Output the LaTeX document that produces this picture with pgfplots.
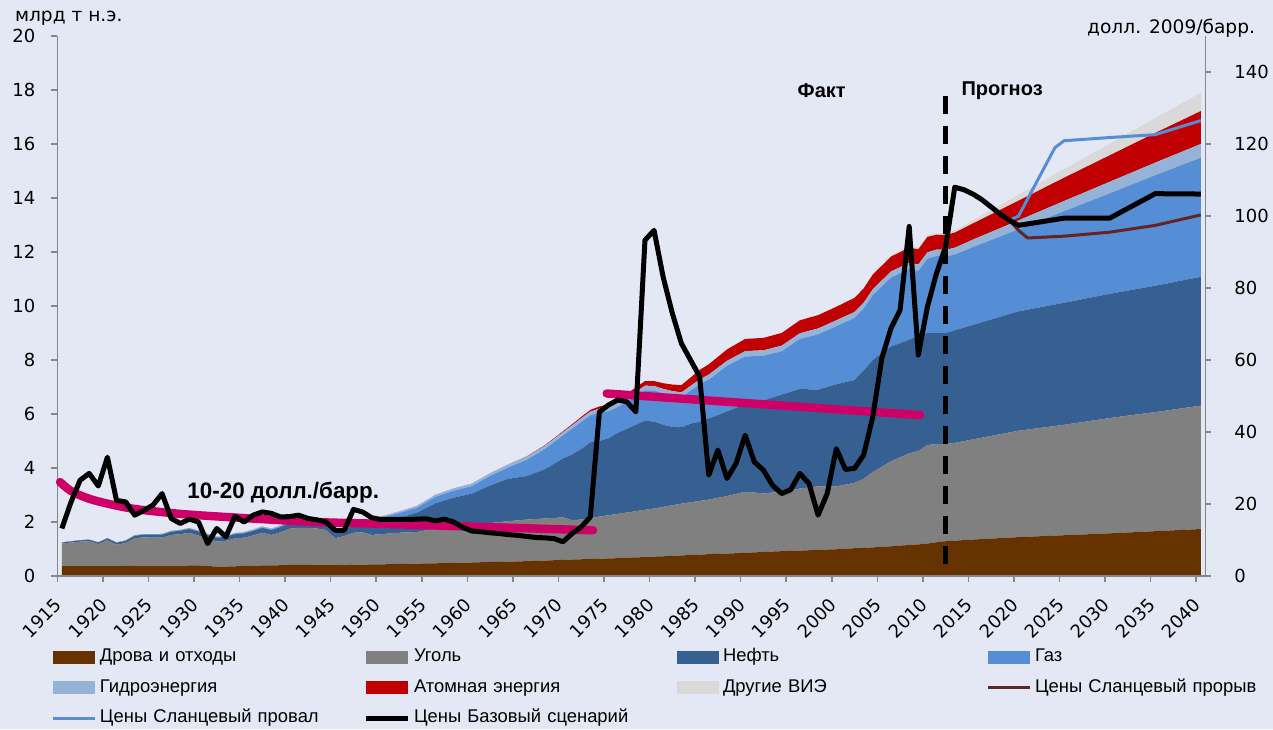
\documentclass[border=0pt]{standalone}
\usepackage{fontspec}
\setmainfont{Liberation Sans}
\newfontfamily\dejavu{DejaVu Sans}
\usepackage{pgfplots}
\pgfplotsset{compat=1.18}
\usepackage{pgfplotstable}

\definecolor{bgc}{RGB}{228,232,244}
\definecolor{woodc}{RGB}{102,51,0}
\definecolor{coalc}{RGB}{128,128,128}
\definecolor{oilc}{RGB}{55,96,146}
\definecolor{gasc}{RGB}{85,142,213}
\definecolor{hydc}{RGB}{149,179,215}
\definecolor{nucc}{RGB}{192,0,0}
\definecolor{othc}{RGB}{217,217,217}
\definecolor{brownl}{RGB}{99,37,35}
\definecolor{bluel}{RGB}{85,142,213}
\definecolor{pinkl}{RGB}{204,0,102}
\definecolor{axc}{RGB}{134,134,134}

\pgfplotsset{
  areaimg/.style={legend image code/.code={\fill[##1] (0pt,-3.25pt) rectangle (21pt,3.25pt);}},
  lineimg/.style={legend image code/.code={\draw[##1] (0pt,0pt) -- (21pt,0pt);}},
}

\pgfplotstableread{
year wood coal oil gas hyd nuc oth
1915 0.37 0.83 0.04 0 0.005 0 0
1916 0.37 0.87 0.04 0 0.005 0 0
1917 0.37 0.90 0.05 0 0.006 0 0
1918 0.37 0.92 0.05 0 0.007 0 0
1919 0.37 0.81 0.06 0 0.008 0 0
1920 0.37 0.95 0.07 0.005 0.01 0 0
1921 0.37 0.79 0.07 0.005 0.01 0 0
1922 0.37 0.85 0.08 0.006 0.011 0 0
1923 0.38 1.02 0.09 0.007 0.012 0 0
1924 0.38 1.05 0.10 0.008 0.013 0 0
1925 0.38 1.04 0.11 0.01 0.015 0 0
1926 0.38 1.04 0.11 0.01 0.016 0 0
1927 0.38 1.14 0.12 0.012 0.017 0 0
1928 0.38 1.17 0.13 0.013 0.018 0 0
1929 0.39 1.21 0.14 0.015 0.019 0 0
1930 0.39 1.11 0.15 0.015 0.02 0 0
1931 0.37 1.01 0.14 0.015 0.02 0 0
1932 0.35 0.93 0.14 0.015 0.02 0 0
1933 0.35 0.95 0.15 0.016 0.021 0 0
1934 0.36 1.04 0.15 0.018 0.023 0 0
1935 0.37 1.05 0.16 0.02 0.025 0 0
1936 0.38 1.12 0.17 0.022 0.026 0 0
1937 0.39 1.21 0.18 0.025 0.027 0 0
1938 0.39 1.13 0.18 0.025 0.028 0 0
1939 0.40 1.22 0.19 0.03 0.029 0 0
1940 0.41 1.34 0.20 0.035 0.03 0 0
1941 0.41 1.37 0.20 0.04 0.032 0 0
1942 0.41 1.37 0.20 0.045 0.034 0 0
1943 0.42 1.34 0.21 0.05 0.036 0 0
1944 0.42 1.28 0.21 0.05 0.038 0 0
1945 0.42 0.98 0.17 0.04 0.04 0 0
1946 0.40 1.08 0.22 0.06 0.042 0 0
1947 0.42 1.18 0.28 0.08 0.044 0 0
1948 0.42 1.20 0.33 0.10 0.046 0 0
1949 0.43 1.09 0.39 0.12 0.048 0 0
1950 0.43 1.12 0.45 0.15 0.05 0 0
1952 0.45 1.15 0.55 0.18 0.055 0 0
1954 0.46 1.17 0.72 0.18 0.065 0 0
1956 0.47 1.29 0.93 0.24 0.075 0 0
1958 0.49 1.35 1.06 0.26 0.08 0 0
1960 0.50 1.40 1.15 0.28 0.09 0 0
1962 0.52 1.44 1.39 0.35 0.10 0 0
1964 0.53 1.50 1.57 0.42 0.11 0 0
1966 0.55 1.54 1.61 0.60 0.115 0.01 0
1968 0.57 1.56 1.82 0.75 0.12 0.02 0
1970 0.60 1.57 2.18 0.85 0.13 0.03 0
1971 0.61 1.46 2.43 0.95 0.13 0.04 0
1972 0.62 1.47 2.61 1.00 0.14 0.05 0
1973 0.63 1.52 2.80 1.00 0.14 0.06 0
1974 0.64 1.56 2.80 1.05 0.15 0.08 0
1975 0.65 1.60 2.85 1.00 0.15 0.10 0
1976 0.66 1.64 3.00 0.95 0.16 0.12 0
1977 0.68 1.67 3.10 1.00 0.16 0.14 0
1978 0.69 1.71 3.20 1.05 0.17 0.16 0
1979 0.70 1.75 3.30 1.13 0.17 0.17 0
1980 0.72 1.78 3.22 1.15 0.17 0.18 0
1981 0.73 1.83 3.04 1.16 0.17 0.21 0
1982 0.75 1.87 2.90 1.15 0.18 0.24 0
1983 0.76 1.92 2.82 1.12 0.18 0.27 0
1984 0.78 1.95 2.89 1.24 0.18 0.31 0
1985 0.79 1.99 2.94 1.38 0.18 0.35 0
1986 0.81 2.02 2.99 1.45 0.19 0.38 0
1988 0.83 2.13 3.14 1.68 0.19 0.42 0
1990 0.86 2.26 3.23 1.78 0.20 0.45 0
1992 0.89 2.17 3.44 1.66 0.20 0.46 0
1994 0.92 2.20 3.60 1.60 0.21 0.47 0
1996 0.94 2.30 3.69 1.85 0.21 0.48 0
1998 0.97 2.35 3.58 2.05 0.22 0.49 0.01
2000 0.99 2.33 3.78 2.15 0.22 0.50 0.02
2002 1.03 2.42 3.81 2.30 0.22 0.52 0.02
2003 1.04 2.56 4.00 2.30 0.22 0.53 0.03
2004 1.06 2.79 4.15 2.40 0.22 0.54 0.03
2006 1.10 3.15 4.25 2.55 0.23 0.55 0.04
2008 1.15 3.39 4.21 2.62 0.23 0.56 0.05
2009 1.17 3.46 4.27 2.40 0.24 0.56 0.05
2010 1.20 3.65 4.15 2.75 0.24 0.57 0.06
2011 1.25 3.64 4.11 2.85 0.24 0.55 0.06
2012 1.29 3.60 4.11 2.83 0.25 0.55 0.07
2013 1.31 3.62 4.17 2.80 0.26 0.56 0.08
2015 1.35 3.71 4.24 2.88 0.28 0.60 0.12
2020 1.44 3.94 4.42 3.04 0.33 0.73 0.22
2025 1.51 4.09 4.52 3.39 0.38 0.86 0.32
2030 1.58 4.27 4.60 3.72 0.43 0.98 0.43
2035 1.66 4.41 4.68 4.09 0.47 1.10 0.55
2040 1.74 4.57 4.77 4.41 0.51 1.22 0.68
}\energy

\pgfplotstableread{
year price
1915 13.2
1916 20.5
1917 26.6
1918 28.5
1919 25
1920 33
1921 21
1922 20.6
1923 16.9
1924 18.2
1925 19.7
1926 22.9
1927 16
1928 14.6
1929 15.8
1930 15
1931 9
1932 13.2
1933 10.9
1934 16.6
1935 15
1936 16.9
1937 17.8
1938 17.4
1939 16.4
1940 16.5
1941 16.9
1942 16
1943 15.6
1944 15
1945 12.7
1946 12.7
1947 18.5
1948 17.8
1949 16.2
1950 15.7
1951 15.7
1952 15.7
1953 15.7
1954 15.8
1955 15.9
1956 15.3
1957 15.8
1958 15
1959 13.5
1960 12.5
1961 12.3
1962 12
1963 11.8
1964 11.5
1965 11.3
1966 11
1967 10.7
1968 10.6
1969 10.4
1970 9.5
1971 11.8
1972 13.6
1973 16.4
1974 45.6
1975 47.5
1976 48.9
1977 48.4
1978 45.6
1979 93.3
1980 96
1981 83
1982 73
1983 64.6
1984 60
1985 55.4
1986 28
1987 35
1988 27.1
1989 31.3
1990 39.1
1991 31.7
1992 29.4
1993 25.2
1994 22.9
1995 24
1996 28.5
1997 25.7
1998 16.9
1999 22.9
2000 35.4
2001 29.6
2002 29.9
2003 33.6
2004 44.2
2005 60.5
2006 68.8
2007 73.9
2008 97.1
2009 61.4
2010 74.8
2011 84.1
2012 91.5
2013 108
2014 107.3
2015 106.1
2016 104.5
2017 102.5
2018 100.5
2019 98.8
2020 97.4
2025 99.4
2030 99.4
2035 106.2
2040 106.1
}\baseprice

\begin{document}
\begin{tikzpicture}
\fill[bgc] (-28.65pt,-76.65pt) rectangle (607.85pt,288pt);
\useasboundingbox (-28.65pt,-76.65pt) rectangle (607.85pt,288pt);

\begin{axis}[
  at={(0,0)}, anchor=south west,
  width=574pt, height=270pt, scale only axis,
  xmin=1914.5, xmax=2040.5, ymin=0, ymax=20,
  clip=false, axis on top,
  axis x line*=bottom, axis y line*=left,
  axis line style={axc, line width=0.8pt},
  tick style={axc, line width=0.8pt},
  tick align=outside, major tick length=3pt,
  xtick={1914.5,1919.5,1924.5,1929.5,1934.5,1939.5,1944.5,1949.5,1954.5,1959.5,1964.5,1969.5,1974.5,1979.5,1984.5,1989.5,1994.5,1999.5,2004.5,2009.5,2014.5,2019.5,2024.5,2029.5,2034.5,2039.5},
  xticklabels={1915,1920,1925,1930,1935,1940,1945,1950,1955,1960,1965,1970,1975,1980,1985,1990,1995,2000,2005,2010,2015,2020,2025,2030,2035,2040},
  ytick={0,2,...,20},
  tick label style={font=\dejavu\fontsize{9}{10}\selectfont},
  /pgf/number format/assume math mode=true,
  yticklabel style={xshift=-4.5pt},
  xticklabel style={xshift=3pt, yshift=-7.5pt, rotate=45, anchor=east},
  stack plots=y,
]
\addplot[fill=woodc, draw=none] table[x=year,y=wood]{\energy} \closedcycle;
\addplot[fill=coalc, draw=none] table[x=year,y=coal]{\energy} \closedcycle;
\addplot[fill=oilc, draw=none] table[x=year,y=oil]{\energy} \closedcycle;
\addplot[fill=gasc, draw=none] table[x=year,y=gas]{\energy} \closedcycle;
\addplot[fill=hydc, draw=none] table[x=year,y=hyd]{\energy} \closedcycle;
\addplot[fill=nucc, draw=none] table[x=year,y=nuc]{\energy} \closedcycle;
\addplot[fill=othc, draw=none] table[x=year,y=oth]{\energy} \closedcycle;

\node[anchor=west, font=\dejavu\fontsize{9.3}{10}\selectfont, xshift=-24.65pt, yshift=9pt] at (rel axis cs:0,1) {млрд т н.э.};
\node[anchor=east, font=\dejavu\fontsize{9.3}{10}\selectfont, xshift=28.4pt, yshift=4pt] at (rel axis cs:1,1) {долл. 2009/барр.};
\node[anchor=base, font=\bfseries\fontsize{11.2}{13}\selectfont] at (axis cs:1939.3,2.87) {10-20 долл./барр.};
\node[anchor=base, font=\bfseries\fontsize{11.2}{13}\selectfont] at (axis cs:1992.2,5.28) {45-55 долл./барр};
\node[anchor=base, font=\bfseries\fontsize{10}{12}\selectfont] at (axis cs:1998.4,17.72) {Факт};
\node[anchor=base, font=\bfseries\fontsize{10}{12}\selectfont] at (axis cs:2018.2,17.78) {Прогноз};
\end{axis}

\begin{axis}[
  at={(0,0)}, anchor=south west,
  width=574pt, height=270pt, scale only axis,
  xmin=1914.5, xmax=2040.5, ymin=0, ymax=150,
  clip=false,
  axis x line=none, axis y line*=right,
  axis line style={axc, line width=0.8pt},
  tick style={axc, line width=0.8pt},
  tick align=outside, major tick length=3pt,
  ytick={0,20,...,140},
  tick label style={font=\dejavu\fontsize{9}{10}\selectfont},
  /pgf/number format/assume math mode=true,
  yticklabel style={xshift=8pt},
  legend columns=4,
  legend cell align=left,
  legend style={
    at={(axis description cs:0,0)}, anchor=north west,
    xshift=-3.15pt, yshift=-35.4pt,
    draw=none, fill=none, inner sep=0pt, outer sep=0pt,
    row sep=4.75pt,
    font=\fontsize{9.2}{11}\selectfont,
    /tikz/every odd column/.append style={column sep=1pt},
    /tikz/every even column/.append style={nodes={text width=130.5pt, align=left, text height=6.5pt, text depth=2pt, inner sep=1pt}},
  },
]
\addlegendimage{areaimg, fill=woodc, draw=none}
\addlegendentry{Дрова и отходы}
\addlegendimage{areaimg, fill=coalc, draw=none}
\addlegendentry{Уголь}
\addlegendimage{areaimg, fill=oilc, draw=none}
\addlegendentry{Нефть}
\addlegendimage{areaimg, fill=gasc, draw=none}
\addlegendentry{Газ}
\addlegendimage{areaimg, fill=hydc, draw=none}
\addlegendentry{Гидроэнергия}
\addlegendimage{areaimg, fill=nucc, draw=none}
\addlegendentry{Атомная энергия}
\addlegendimage{areaimg, fill=othc, draw=none}
\addlegendentry{Другие ВИЭ}

\addplot[forget plot, pinkl, line width=4.2pt, line cap=round, smooth] coordinates {
(1914.8,26.1) (1915.9,23.8) (1917.4,22.0) (1919.2,20.6) (1922.8,18.7) (1928.3,17.2) (1935.6,16.0) (1942.9,15.0) (1949.9,14.5) (1961.6,13.6) (1973.3,12.7)};
\addplot[forget plot, pinkl, line width=4.2pt, line cap=round] coordinates {(1974.8,50.7) (2009.2,44.7)};
\addplot[forget plot, black, line width=2.3pt, dash pattern=on 9pt off 6pt] coordinates {(2012,133.2) (2012,0)};

\addplot[brownl, line width=1.5pt, line join=round, lineimg] coordinates {
(2019,98.8) (2020,96) (2021,93.9) (2025,94.4) (2030,95.5) (2035,97.4) (2040,100.3)};
\addlegendentry{Цены Сланцевый прорыв}
\addplot[bluel, line width=1.5pt, line join=round, lineimg] coordinates {
(2019,98.8) (2020,100) (2024,119) (2025,120.9) (2030,121.8) (2035,122.6) (2040,126.5)};
\addlegendentry{Цены Сланцевый провал}
\addplot[black, line width=2.5pt, line join=round, lineimg] table[x=year,y=price]{\baseprice};
\addlegendentry{Цены Базовый сценарий}
\end{axis}
\end{tikzpicture}
\end{document}
